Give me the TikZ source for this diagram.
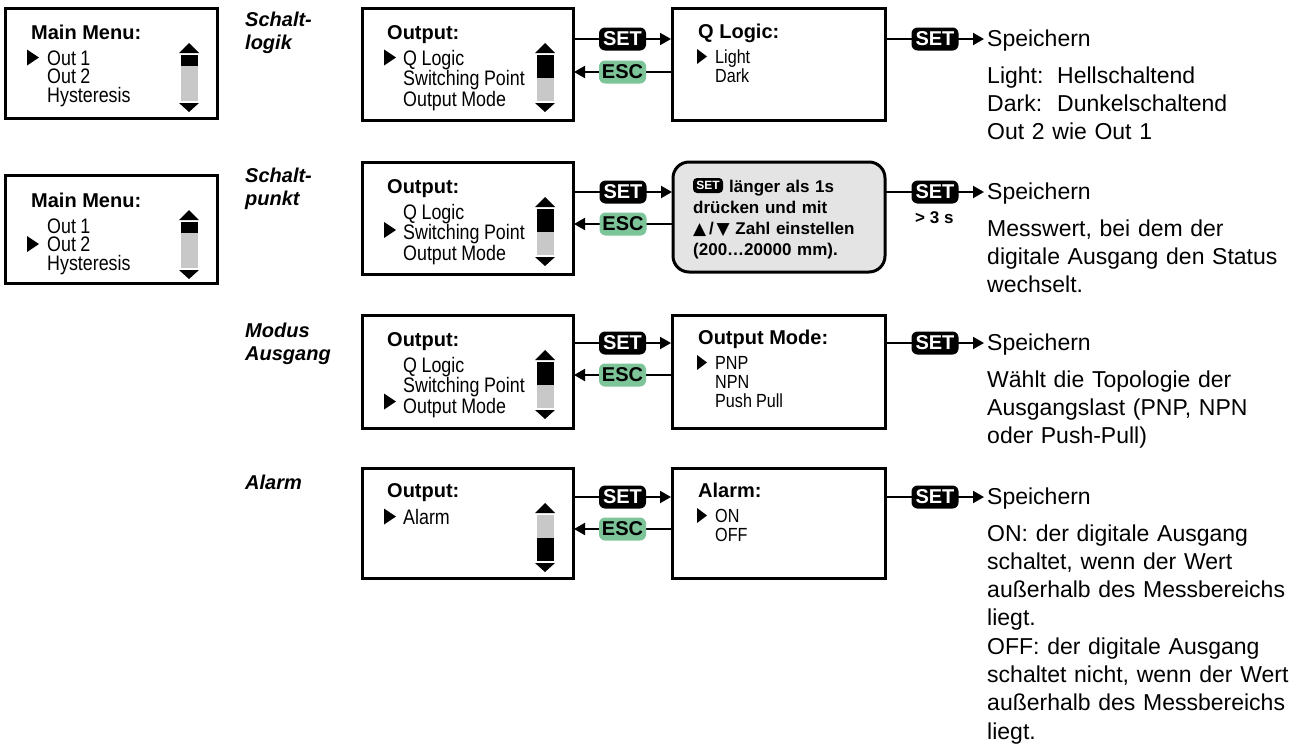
\documentclass[tikz,border=0pt]{standalone}
\usepackage{fontspec}
\setmainfont{Liberation Sans}
\newfontfamily\condfont[FakeStretch=0.85]{Liberation Sans}
\newfontfamily\dejavu{DejaVu Sans}
\usetikzlibrary{arrows.meta,calc}
\definecolor{escgreen}{RGB}{125,196,152}
\definecolor{sbgray}{RGB}{200,200,200}
\definecolor{boxgray}{RGB}{228,228,228}
\tikzset{
  frame/.style={draw, line width=3pt, anchor=north west, inner sep=0pt, outer sep=0pt},
  grayframe/.style={frame, fill=boxgray, rounded corners=16pt},
  ttl/.style={font=\bfseries\fontsize{20}{24}\selectfont, anchor=base west, inner sep=0pt},
  item/.style={font=\condfont\fontsize{21}{18.5}\selectfont, anchor=base west, inner sep=0pt, text width=160pt, align=left, execute at begin node={\spaceskip=4.5pt\relax}},
  ritem/.style={font=\condfont\fontsize{19}{19}\selectfont, anchor=base west, inner sep=0pt, text width=160pt, align=left, execute at begin node={\spaceskip=4pt\relax}},
  desc/.style={font=\fontsize{23}{28.3}\selectfont, anchor=base west, inner sep=0pt, text width=318pt, align=left},
  lbl/.style={font=\bfseries\itshape\fontsize{20}{23}\selectfont, anchor=base west, inner sep=0pt, text width=110pt, align=left},
  gtext/.style={font=\bfseries\fontsize{17}{21.3}\selectfont, anchor=base west, inner sep=0pt, text width=190pt, align=left},
  setb/.style={fill=black, rounded corners=6pt, text=white, font=\bfseries\fontsize{20}{20}\selectfont, minimum width=47pt, minimum height=23pt, inner sep=0pt},
  escb/.style={fill=escgreen, rounded corners=6pt, text=black, font=\bfseries\fontsize{20}{20}\selectfont, minimum width=47pt, minimum height=23pt, inner sep=0pt},
  arr/.style={line width=2pt, -{Triangle[length=11pt,width=12pt]}, shorten >=1pt},
}
\newcommand\mk[4]{\fill (#1,#2-#4/2) -- (#1+#3,#2) -- (#1,#2+#4/2) -- cycle;}
\newcommand\scroll[4]{%
  \begin{scope}[shift={(#1,#2)}]
    \fill (-38,45) -- (-18,45) -- (-28,35) -- cycle;
    \fill[sbgray] (-36.5,47) rectangle (-19.5,93);
    \fill (-36.5,#3) rectangle (-19.5,#4);
    \fill (-38,95) -- (-18,95) -- (-28,104) -- cycle;
  \end{scope}}
\begin{document}
\begin{tikzpicture}[x=1pt,y=-1pt]
\useasboundingbox (0,0) rectangle (1305,744);

% ---------- Main menus ----------
\node[frame, minimum width=212pt, minimum height=110pt] (m1) at (5,8) {};
\node[ttl] (m1t) at (31,39) {Main Menu:};
\node[item] (m1i) at (47,65) {Out 1\\Out 2\\Hysteresis};
\mk{27}{57.5}{12}{16}
\scroll{217}{8}{47}{58}

\node[frame, minimum width=212pt, minimum height=108pt] (m2) at (5,175) {};
\node[ttl] (m2t) at (31,207) {Main Menu:};
\node[item] (m2i) at (47,233) {Out 1\\Out 2\\Hysteresis};
\mk{27}{244}{12}{16}
\scroll{217}{175}{47}{58}

% ---------- Row labels ----------
\node[lbl] (l1) at (245,27) {Schalt-\\logik};
\node[lbl] (l2) at (245,182) {Schalt-\\punkt};
\node[lbl] (l3) at (245,337) {Modus\\Ausgang};
\node[lbl] (l4) at (245,489) {Alarm};

% ---------- Output boxes ----------
\node[frame, minimum width=211pt, minimum height=112pt] (o1) at (362,8) {};
\node[ttl] (o1t) at (387,39) {Output:};
\node[item] (o1i) at (403,65) {Q Logic\\Switching Point\\Output Mode};
\mk{384}{57.5}{12}{16}
\scroll{573}{8}{47}{70}

\node[frame, minimum width=211pt, minimum height=112pt] (o2) at (362,162) {};
\node[ttl] (o2t) at (387,193) {Output:};
\node[item] (o2i) at (403,219) {Q Logic\\Switching Point\\Output Mode};
\mk{384}{230}{12}{16}
\scroll{573}{162}{47}{70}

\node[frame, minimum width=211pt, minimum height=113pt] (o3) at (362,315) {};
\node[ttl] (o3t) at (387,346) {Output:};
\node[item] (o3i) at (403,372) {Q Logic\\Switching Point\\Output Mode};
\mk{384}{401.5}{12}{16}
\scroll{573}{315}{47}{70}

\node[frame, minimum width=211pt, minimum height=110pt] (o4) at (362,468) {};
\node[ttl] (o4t) at (387,497) {Output:};
\node[item] (o4i) at (403,524) {Alarm};
\mk{384}{516.5}{12}{16}
\scroll{573}{468}{70}{93}

% ---------- Right boxes ----------
\node[frame, minimum width=213pt, minimum height=112pt] (q1) at (672,8) {};
\node[ttl] (q1t) at (698,38) {Q Logic:};
\node[ritem] (q1i) at (715,63) {Light\\Dark};
\mk{697}{56.5}{10}{15}

\node[grayframe, minimum width=212pt, minimum height=110pt] (g2) at (673,162) {};
\node[setb, minimum width=30pt, minimum height=15pt, rounded corners=4pt, font=\bfseries\fontsize{12}{12}\selectfont] (gset) at (708,185.5) {SET};
\node[gtext] (g2t) at (693,192) {\hspace*{36pt}länger als 1s\\drücken und mit\\{\dejavu ▲}\,/\,{\dejavu ▼} Zahl einstellen\\(200…20000 mm).};

\node[frame, minimum width=213pt, minimum height=113pt] (q3) at (672,315) {};
\node[ttl] (q3t) at (698,344) {Output Mode:};
\node[ritem] (q3i) at (715,369) {PNP\\NPN\\Push Pull};
\mk{697}{362.5}{10}{15}

\node[frame, minimum width=213pt, minimum height=110pt] (q4) at (672,468) {};
\node[ttl] (q4t) at (698,497) {Alarm:};
\node[ritem] (q4i) at (715,522) {ON\\OFF};
\mk{697}{515.5}{10}{15}

% ---------- Connectors ----------
\coordinate (r1s) at (0,39);  \coordinate (r1e) at (0,72);
\coordinate (r2s) at (0,192); \coordinate (r2e) at (0,224);
\coordinate (r3s) at (0,343); \coordinate (r3e) at (0,375);
\coordinate (r4s) at (0,497); \coordinate (r4e) at (0,529);

\draw[arr] (o1.east |- r1s) -- node[setb] (s1) {SET} (q1.west |- r1s);
\draw[arr] (q1.west |- r1e) -- node[escb] (c1) {ESC} (o1.east |- r1e);
\draw[arr] (o2.east |- r2s) -- node[setb] (s2) {SET} (g2.west |- r2s);
\draw[arr] (g2.west |- r2e) -- node[escb] (c2) {ESC} (o2.east |- r2e);
\draw[arr] (o3.east |- r3s) -- node[setb] (s3) {SET} (q3.west |- r3s);
\draw[arr] (q3.west |- r3e) -- node[escb] (c3) {ESC} (o3.east |- r3e);
\draw[arr] (o4.east |- r4s) -- node[setb] (s4) {SET} (q4.west |- r4s);
\draw[arr] (q4.west |- r4e) -- node[escb] (c4) {ESC} (o4.east |- r4e);

% ---------- Save arrows and descriptions ----------
\coordinate (e1) at (985,39);
\coordinate (e2) at (985,192);
\coordinate (e3) at (985,343);
\coordinate (e4) at (985,497);
\draw[arr] (q1.east |- r1s) -- node[setb] (t1) {SET} (e1);
\draw[arr] (g2.east |- r2s) -- node[setb] (t2) {SET} (e2);
\draw[arr] (q3.east |- r3s) -- node[setb] (t3) {SET} (e3);
\draw[arr] (q4.east |- r4s) -- node[setb] (t4) {SET} (e4);
\node[font=\bfseries\fontsize{17}{17}\selectfont, anchor=base west, inner sep=0pt] (gt3s) at (915,223) {> 3 s};

\node[desc] (sp1) at (987,46) {Speichern};
\node[desc] (d1) at (987,83) {\makebox[70pt][l]{Light:}Hellschaltend\\\makebox[70pt][l]{Dark:}Dunkelschaltend\\Out 2 wie Out 1};
\node[desc] (sp2) at (987,199) {Speichern};
\node[desc] (d2) at (987,236) {Messwert, bei dem der\\digitale Ausgang den Status\\wechselt.};
\node[desc] (sp3) at (987,350) {Speichern};
\node[desc] (d3) at (987,387) {Wählt die Topologie der\\Ausgangslast (PNP, NPN\\oder Push-Pull)};
\node[desc] (sp4) at (987,504) {Speichern};
\node[desc] (d4) at (987,541) {ON: der digitale Ausgang\\schaltet, wenn der Wert\\außerhalb des Messbereichs\\liegt.\\OFF: der digitale Ausgang\\schaltet nicht, wenn der Wert\\außerhalb des Messbereichs\\liegt.};
\end{tikzpicture}
\end{document}
